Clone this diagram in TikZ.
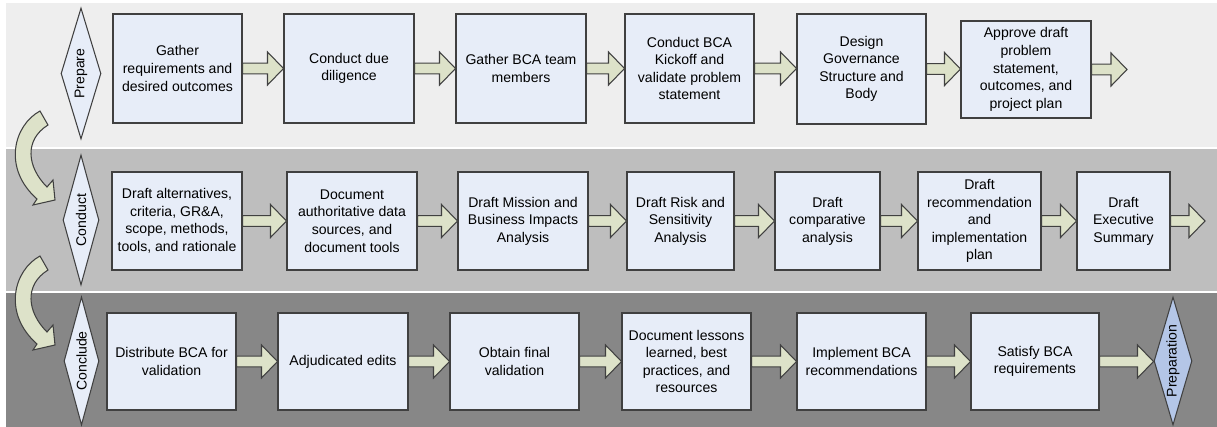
\documentclass[tikz,border=0pt]{standalone}
\usepackage{fontspec}
\setmainfont{Liberation Sans}
\usetikzlibrary{shapes.geometric,calc}

\definecolor{bandA}{HTML}{EEEEEE}
\definecolor{bandB}{HTML}{BEBEBE}
\definecolor{bandC}{HTML}{878787}
\definecolor{boxfill}{HTML}{E7EDF8}
\definecolor{arrfill}{HTML}{DDE2C9}
\definecolor{nextfill}{HTML}{B4C6E7}
\definecolor{edge}{HTML}{404040}

\begin{document}
\begin{tikzpicture}[x=0.02cm,y=-0.02cm,
  task/.style={draw=edge,fill=boxfill,line width=0.6pt,inner sep=0pt,align=center,font=\fontsize{8}{10}\selectfont},
  phase/.style={diamond,draw=edge,fill=boxfill,line width=0.6pt,inner sep=0pt,aspect=3.4,rotate=90,font=\fontsize{8}{10}\selectfont},
  flowarr/.style={draw=edge,fill=arrfill,line width=0.6pt,line join=miter},
  band/.style={draw=white,line width=0.8pt}]

\useasboundingbox (0,0) rectangle (1217,426);
\fill[white] (0,0) rectangle (1217,426);
\filldraw[band,fill=bandA] (5,2) rectangle (1219,148);
\filldraw[band,fill=bandB] (5,148) rectangle (1219,292);
\filldraw[band,fill=bandC] (5,292) rectangle (1219,428);

\foreach \s in {0,145}
  \filldraw[flowarr,shift={(0,\s)}] (40,111) .. controls (14,125) and (2,168) .. (37,199) -- (33,205) -- (55,200) -- (53,180) -- (47,187) .. controls (27,167) and (24,140) .. (48,125) -- cycle;

\node (prep) at (81,73.5) [phase,minimum width=2.62cm,minimum height=0.8cm] {Prepare};
\node (cond) at (81,220) [phase,minimum width=2.6cm,minimum height=0.72cm] {Conduct};
\node (concl) at (81.5,361) [phase,minimum width=2.56cm,minimum height=0.7cm] {Conclude};
\node (nextprep) at (1173,361) [phase,fill=nextfill,minimum width=2.56cm,minimum height=0.76cm] {Preparation};

\node (pr1) at (177.5,68.5) [task,minimum width=2.58cm,minimum height=2.18cm] {Gather\\requirements and\\desired outcomes};
\node (pr2) at (349,68.5) [task,minimum width=2.6cm,minimum height=2.18cm] {Conduct due\\diligence};
\node (pr3) at (521,68.5) [task,minimum width=2.6cm,minimum height=2.18cm] {Gather BCA team\\members};
\node (pr4) at (689.5,68.5) [task,minimum width=2.58cm,minimum height=2.18cm] {Conduct BCA\\Kickoff and\\validate problem\\statement};
\node (pr5) at (861.5,69) [task,minimum width=2.58cm,minimum height=2.2cm] {Design\\Governance\\Structure and\\Body};
\node (pr6) at (1026,69.5) [task,minimum width=2.6cm,minimum height=1.94cm] {Approve draft\\problem\\statement,\\outcomes, and\\project plan};
\coordinate (pend) at (1127,69);

\node (co1) at (177,221) [task,minimum width=2.6cm,minimum height=1.96cm] {Draft alternatives,\\criteria, GR\&A,\\scope, methods,\\tools, and rationale};
\node (co2) at (352,221) [task,minimum width=2.6cm,minimum height=1.96cm] {Document\\authoritative data\\sources, and\\document tools};
\node (co3) at (523,221) [task,minimum width=2.6cm,minimum height=1.96cm] {Draft Mission and\\Business Impacts\\Analysis};
\node (co4) at (680.5,221) [task,minimum width=2.14cm,minimum height=1.96cm] {Draft Risk and\\Sensitivity\\Analysis};
\node (co5) at (827.5,221) [task,minimum width=2.1cm,minimum height=1.96cm] {Draft\\comparative\\analysis};
\node (co6) at (979.5,221) [task,minimum width=2.46cm,minimum height=1.96cm] {Draft\\recommendation\\and\\implementation\\plan};
\node (co7) at (1123.5,221) [task,minimum width=1.86cm,minimum height=1.96cm] {Draft\\Executive\\Summary};
\coordinate (cend) at (1205,221);

\node (cl1) at (171.5,361.5) [task,minimum width=2.58cm,minimum height=1.94cm] {Distribute BCA for\\validation};
\node (cl2) at (343,361.5) [task,minimum width=2.6cm,minimum height=1.94cm] {Adjudicated edits};
\node (cl3) at (514.5,361.5) [task,minimum width=2.58cm,minimum height=1.94cm] {Obtain final\\validation};
\node (cl4) at (686.5,361.5) [task,minimum width=2.58cm,minimum height=1.94cm] {Document lessons\\learned, best\\practices, and\\resources};
\node (cl5) at (861.5,361.5) [task,minimum width=2.58cm,minimum height=1.94cm] {Implement BCA\\recommendations};
\node (cl6) at (1035,361.5) [task,minimum width=2.56cm,minimum height=1.94cm] {Satisfy BCA\\requirements};

\foreach \a/\b in {pr1.east/pr2.west,pr2.east/pr3.west,pr3.east/pr4.west,pr4.east/pr5.west,pr5.east/pr6.west,pr6.east/pend,
  co1.east/co2.west,co2.east/co3.west,co3.east/co4.west,co4.east/co5.west,co5.east/co6.west,co6.east/co7.west,co7.east/cend,
  cl1.east/cl2.west,cl2.east/cl3.west,cl3.east/cl4.west,cl4.east/cl5.west,cl5.east/cl6.west,cl6.east/nextprep.north}
  \draw[flowarr] let \p1=(\a), \p2=(\b) in
    (\x1,\y1+3.1pt) -- (\x2-9.1pt,\y1+3.1pt) -- (\x2-9.1pt,\y1+9.4pt) -- (\x2,\y1)
    -- (\x2-9.1pt,\y1-9.4pt) -- (\x2-9.1pt,\y1-3.1pt) -- (\x1,\y1-3.1pt) -- cycle;
\end{tikzpicture}
\end{document}
